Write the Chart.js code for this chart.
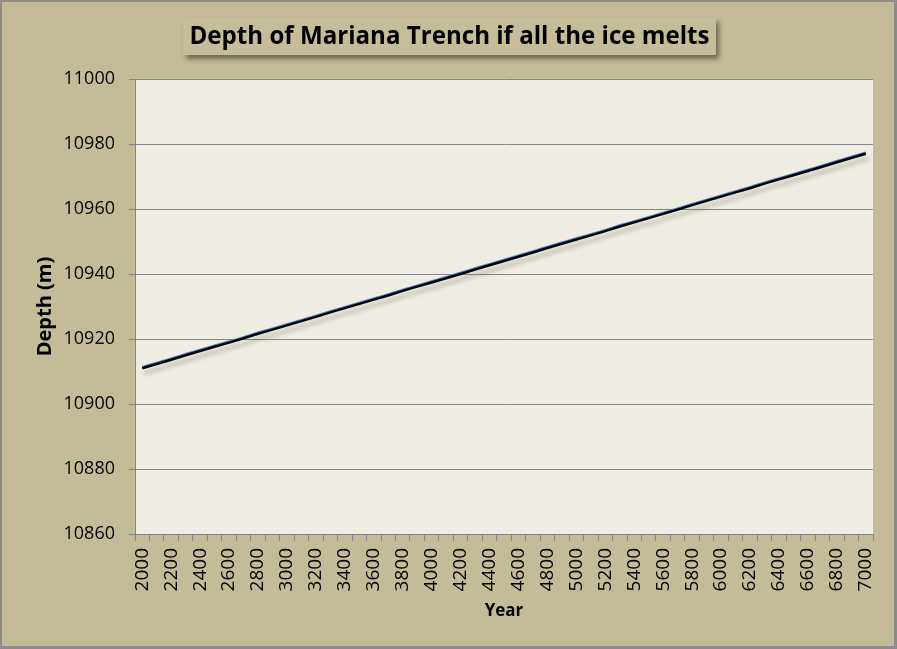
<!DOCTYPE html>
<html>
<head>
<meta charset="utf-8">
<script src="https://cdn.jsdelivr.net/npm/chart.js@4.4.1/dist/chart.umd.min.js"></script>
<style>
  html, body { margin: 0; padding: 0; background: #c4bc98; }
  canvas { display: block; }
</style>
</head>
<body>
<canvas id="grafico" width="897" height="649"></canvas>
<script>
// años (categorias, cada 100 años; se rotula uno de cada dos)
const anios = [
  2000, 2100, 2200, 2300, 2400, 2500, 2600, 2700, 2800, 2900,
  3000, 3100, 3200, 3300, 3400, 3500, 3600, 3700, 3800, 3900,
  4000, 4100, 4200, 4300, 4400, 4500, 4600, 4700, 4800, 4900,
  5000, 5100, 5200, 5300, 5400, 5500, 5600, 5700, 5800, 5900,
  6000, 6100, 6200, 6300, 6400, 6500, 6600, 6700, 6800, 6900,
  7000
];

// profundidad (m)
const profundidad = [
  10911.0, 10912.3, 10913.6, 10915.0, 10916.3, 10917.6, 10918.9, 10920.2, 10921.6, 10922.9,
  10924.2, 10925.5, 10926.8, 10928.2, 10929.5, 10930.8, 10932.1, 10933.4, 10934.8, 10936.1,
  10937.4, 10938.7, 10940.0, 10941.4, 10942.7, 10944.0, 10945.3, 10946.6, 10948.0, 10949.3,
  10950.6, 10951.9, 10953.2, 10954.6, 10955.9, 10957.2, 10958.5, 10959.8, 10961.2, 10962.5,
  10963.8, 10965.1, 10966.4, 10967.8, 10969.1, 10970.4, 10971.7, 10973.0, 10974.4, 10975.7,
  10977.0
];

const ejeY = { min: 10860, max: 11000, paso: 20 };
const titulo = 'Depth of Mariana Trench if all the ice melts';

const gris = '#868686';

// fondo, marco, area de trazado y titulo con sombra
const fondoPlugin = {
  id: 'fondo',
  beforeDraw(chart) {
    const { ctx, width, height, chartArea } = chart;
    ctx.save();
    ctx.fillStyle = '#8c8c8c';
    ctx.fillRect(0, 0, width, height);
    ctx.fillStyle = '#c4bc98';
    ctx.fillRect(2, 2, width - 5, height - 5);

    ctx.fillStyle = '#efede3';
    ctx.fillRect(chartArea.left, chartArea.top,
      chartArea.right - chartArea.left, chartArea.bottom - chartArea.top);

    // caja del titulo
    const bx = 183, by = 18, bw = 533, bh = 37;
    ctx.shadowColor = 'rgba(40,35,20,0.55)';
    ctx.shadowBlur = 5;
    ctx.shadowOffsetX = 3;
    ctx.shadowOffsetY = 4;
    ctx.fillStyle = '#c5bd9a';
    ctx.fillRect(bx, by, bw, bh);
    ctx.shadowColor = 'transparent';

    let size = 24;
    ctx.font = 'bold ' + size + 'px "Open Sans"';
    const w = ctx.measureText(titulo).width;
    size = size * 520 / w;
    ctx.font = 'bold ' + size.toFixed(2) + 'px "Open Sans"';
    ctx.fillStyle = '#000';
    ctx.textAlign = 'center';
    ctx.textBaseline = 'alphabetic';
    ctx.fillText(titulo, bx + bw / 2, 44);
    ctx.restore();
  }
};

// sombra y borde azul de la linea
const sombraPlugin = {
  id: 'sombra',
  beforeDatasetDraw(chart, args) {
    if (args.index !== 1) return;
    const ctx = chart.ctx;
    ctx.save();
    ctx.translate(0, -1);
    ctx.shadowColor = 'rgba(70,60,40,0.35)';
    ctx.shadowBlur = 4;
    ctx.shadowOffsetX = 2;
    ctx.shadowOffsetY = 6;
  },
  afterDatasetDraw(chart, args) {
    if (args.index !== 1) return;
    chart.ctx.restore();
  }
};

const ctx = document.getElementById('grafico').getContext('2d');
new Chart(ctx, {
  type: 'line',
  data: {
    labels: anios,
    datasets: [
      {
        data: profundidad,
        borderColor: '#050505',
        borderWidth: 2.5,
        pointRadius: 0,
        tension: 0,
        order: 0
      },
      {
        data: profundidad,
        borderColor: '#4f81bd',
        borderWidth: 2.5,
        pointRadius: 0,
        tension: 0,
        order: 1
      }
    ]
  },
  options: {
    responsive: false,
    animation: false,
    devicePixelRatio: 1,
    layout: { padding: { top: 79, right: 24, left: 0, bottom: 0 } },
    plugins: {
      legend: { display: false },
      tooltip: { enabled: false },
      title: { display: false }
    },
    scales: {
      x: {
        type: 'category',
        offset: true,
        afterFit(scale) { scale.height = 115; },
        grid: {
          offset: true,
          drawOnChartArea: false,
          drawTicks: true,
          tickLength: 7,
          color: gris
        },
        border: { color: gris, width: 1 },
        ticks: {
          autoSkip: false,
          minRotation: 90,
          maxRotation: 90,
          padding: 7,
          color: '#000',
          font: { family: '"Open Sans"', size: 19 },
          callback(value, index) {
            return index % 2 === 0 ? String(anios[index]) : '';
          }
        },
        title: {
          display: true,
          text: 'Year',
          color: '#000',
          font: { family: '"Open Sans"', size: 17, weight: 'bold' },
          padding: { top: 0, bottom: 28 }
        }
      },
      y: {
        min: ejeY.min,
        max: ejeY.max,
        afterFit(scale) { scale.width = 135; },
        grid: {
          color: gris,
          tickLength: 6,
          drawTicks: true
        },
        border: { color: gris, width: 1 },
        ticks: {
          stepSize: ejeY.paso,
          padding: 14,
          color: '#000',
          font: { family: '"Open Sans"', size: 18 },
          callback(value) { return String(value); }
        },
        title: {
          display: true,
          text: 'Depth (m)',
          color: '#000',
          font: { family: '"Open Sans"', size: 20, weight: 'bold' },
          padding: { top: 33, bottom: 0 }
        }
      }
    }
  },
  plugins: [fondoPlugin, sombraPlugin]
});
</script>
</body>
</html>
